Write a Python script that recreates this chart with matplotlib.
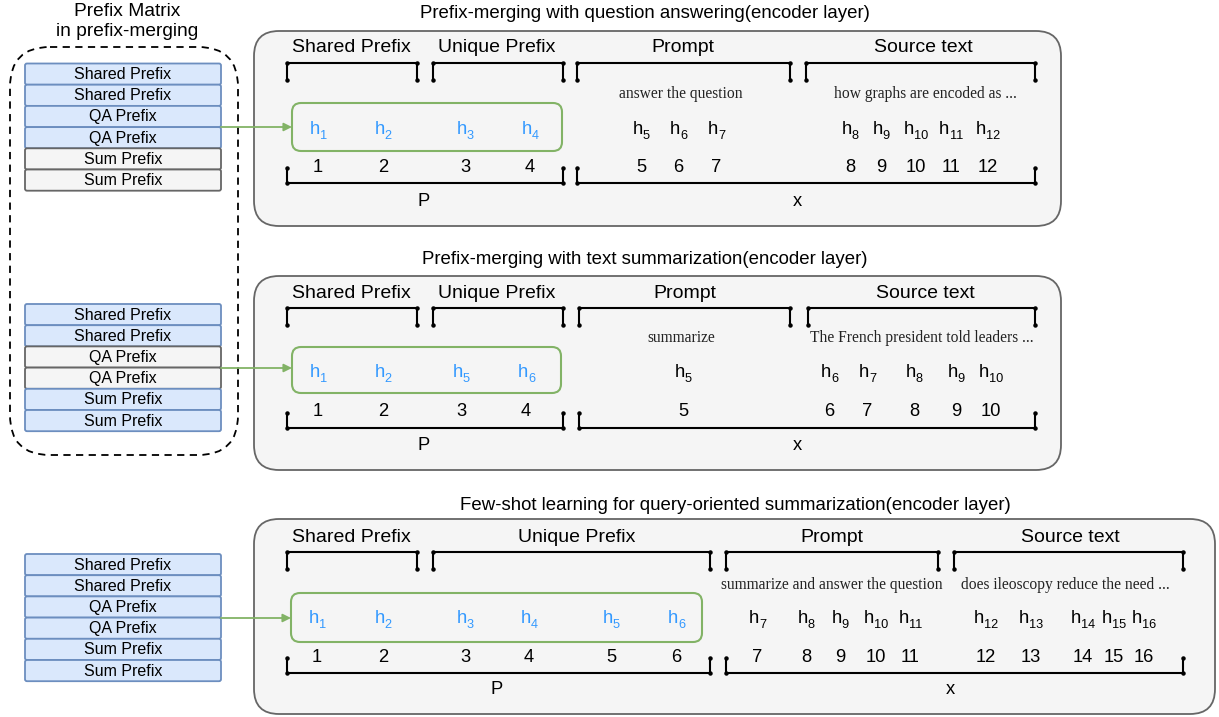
import matplotlib
matplotlib.use("Agg")
import matplotlib.pyplot as plt
from matplotlib.patches import FancyBboxPatch

plt.rcParams['font.family'] = ['Liberation Sans', 'DejaVu Sans']

# ---------------- data ----------------
matrix_title = ["Prefix Matrix", "in prefix-merging"]
stack_labels = ["Shared Prefix", "Shared Prefix", "QA Prefix", "QA Prefix", "Sum Prefix", "Sum Prefix"]
stack1_active = [True, True, True, True, False, False]
stack2_active = [True, True, False, False, True, True]
stack3_active = [True, True, True, True, True, True]

panel_titles = ["Prefix-merging with question answering(encoder layer)",
                "Prefix-merging with text summarization(encoder layer)",
                "Few-shot learning for query-oriented summarization(encoder layer)"]
segment_names = ["Shared Prefix", "Unique Prefix", "Prompt", "Source text"]
prompt_texts = ["answer the question", "summarize", "summarize and answer the question"]
source_texts = ["how graphs are encoded as ...", "The French president told leaders ...",
                "does ileoscopy reduce the need ..."]

p1_positions = [1, 2, 3, 4, 5, 6, 7, 8, 9, 10, 11, 12]
p1_hidden = [1, 2, 3, 4, 5, 6, 7, 8, 9, 10, 11, 12]
p1_prefix_count = 4
p2_positions = [1, 2, 3, 4, 5, 6, 7, 8, 9, 10]
p2_hidden = [1, 2, 5, 6, 5, 6, 7, 8, 9, 10]
p2_prefix_count = 4
p3_positions = [1, 2, 3, 4, 5, 6, 7, 8, 9, 10, 11, 12, 13, 14, 15, 16]
p3_hidden = [1, 2, 3, 4, 5, 6, 7, 8, 9, 10, 11, 12, 13, 14, 15, 16]
p3_prefix_count = 6
group_labels = ["P", "x"]

# ---------------- layout (pixels) ----------------
W, H = 1219, 717
fig = plt.figure(figsize=(W / 100, H / 100), dpi=100)
ax = fig.add_axes([0, 0, 1, 1])
ax.set_xlim(0, W)
ax.set_ylim(H, 0)
ax.axis('off')
renderer = fig.canvas.get_renderer()

BLUE_F, BLUE_E = "#dae8fc", "#6c8ebf"
GREY_F, GREY_E = "#f5f5f5", "#666666"
GREEN = "#82b366"
HCOL = "#3399ff"
HDR_FS = 14
TITLE_FS = 13.4
TOK_FS = 13.2
SUB_FS = 9.2

# Left titles
ax.text(127, 12, matrix_title[0], ha='center', va='center', fontsize=13.8)
ax.text(127, 32, matrix_title[1], ha='center', va='center', fontsize=13.8)
ax.add_patch(FancyBboxPatch((10, 47), 228, 408, boxstyle="round,pad=0,rounding_size=40",
                            fc='none', ec='black', lw=1.3, ls=(0, (4, 3))))


def draw_stack(y0, active):
    rh = 21.2
    for i, (lab, act) in enumerate(zip(stack_labels, active)):
        y = y0 + i * rh
        fc, ec = (BLUE_F, BLUE_E) if act else (GREY_F, GREY_E)
        ax.add_patch(FancyBboxPatch((25, y), 196, rh, boxstyle="round,pad=0,rounding_size=2",
                                    fc=fc, ec=ec, lw=1.3, zorder=2))
        ax.text(123, y + rh / 2 + 0.5, lab, ha='center', va='center', fontsize=11.5, zorder=3)


draw_stack(63.5, stack1_active)
draw_stack(304, stack2_active)
draw_stack(554, stack3_active)


def bracket_top(x0, x1, y, depth=17):
    ax.plot([x0, x0, x1, x1], [y + depth, y, y, y + depth], color='black', lw=1.5,
            marker='o', markersize=2.2, solid_joinstyle='miter')


def bracket_bot(x0, x1, y, depth=15):
    ax.plot([x0, x0, x1, x1], [y - depth, y, y, y - depth], color='black', lw=1.5,
            marker='o', markersize=2.2, solid_joinstyle='miter')


def htoken(x, y, n, color):
    th = ax.text(0, y, "h", ha='left', va='baseline', fontsize=TOK_FS, color=color)
    ts = ax.text(0, y + 5, str(n), ha='left', va='baseline', fontsize=SUB_FS, color=color)
    wh = th.get_window_extent(renderer).width
    ws = ts.get_window_extent(renderer).width
    left = x - (wh + ws) / 2
    th.set_x(left)
    ts.set_x(left + wh + 0.3)


def panel(cfg):
    (title, tx, ty, box, hdr_y, hdr_x, brk_y, brk_x, green, arrow_y, h_y, num_y, hidden, positions,
     xs, ptxt, ptxt_x, stxt, stxt_x, txt_y, bot_y, bot_x, lab_y, lab_x, npref) = cfg
    ax.text(tx, ty, title, ha='center', va='center', fontsize=TITLE_FS)
    bx0, by0, bx1, by1 = box
    ax.add_patch(FancyBboxPatch((bx0, by0), bx1 - bx0, by1 - by0,
                                boxstyle="round,pad=0,rounding_size=25",
                                fc=GREY_F, ec=GREY_E, lw=1.3, zorder=0))
    for name, x in zip(segment_names, hdr_x):
        ax.text(x, hdr_y, name, ha='center', va='center', fontsize=HDR_FS)
    for (x0, x1) in brk_x:
        bracket_top(x0, x1, brk_y)
    gx0, gy0, gx1, gy1 = green
    ax.add_patch(FancyBboxPatch((gx0, gy0), gx1 - gx0, gy1 - gy0,
                                boxstyle="round,pad=0,rounding_size=9",
                                fc='none', ec=GREEN, lw=1.5, zorder=2))
    ax.annotate("", xy=(gx0, arrow_y), xytext=(221, arrow_y),
                arrowprops=dict(arrowstyle='-|>', color=GREEN, lw=1.3,
                                mutation_scale=12, shrinkA=0, shrinkB=0))
    for i, (hid, pos, x) in enumerate(zip(hidden, positions, xs)):
        col = HCOL if i < npref else 'black'
        htoken(x, h_y, hid, col)
        ax.text(x, num_y, str(pos), ha='center', va='center', fontsize=TOK_FS)
    ax.text(ptxt_x, txt_y, ptxt, ha='center', va='center', fontsize=11.2,
            family='Liberation Serif', color='#222222')
    ax.text(stxt_x, txt_y, stxt, ha='center', va='center', fontsize=11.2,
            family='Liberation Serif', color='#222222')
    for (x0, x1) in bot_x:
        bracket_bot(x0, x1, bot_y)
    for lab, x in zip(group_labels, lab_x):
        ax.text(x, lab_y, lab, ha='center', va='center', fontsize=TOK_FS)


panel((panel_titles[0], 645, 14, (254, 31, 1061, 226), 47, [351, 497, 683, 923], 63,
       [(287, 417), (433, 563), (577, 790), (806, 1035)], (292, 103, 562, 151), 127, 134, 168,
       p1_hidden, p1_positions,
       [318, 383, 465, 530, 641, 678, 716, 850, 881, 916, 951, 988],
       prompt_texts[0], 681, source_texts[0], 925, 94, 183, [(287, 563), (577, 1035)],
       201, [424, 797], p1_prefix_count))

panel((panel_titles[1], 645, 260, (254, 276, 1061, 470), 293, [351, 497, 685, 925], 308,
       [(287, 417), (433, 563), (579, 790), (808, 1035)], (292, 347, 561, 393), 368, 377, 411,
       p2_hidden, p2_positions,
       [318, 383, 461, 526, 683, 829, 867, 914, 956, 991],
       prompt_texts[1], 681, source_texts[1], 922, 338, 428, [(287, 563), (579, 1035)],
       446, [424, 797], p2_prefix_count))

panel((panel_titles[2], 735, 505, (254, 519, 1215, 714), 537, [351, 577, 832, 1070], 552,
       [(287, 417), (433, 710), (726, 938), (954, 1183)], (291, 593, 702, 642), 618, 623, 657,
       p3_hidden, p3_positions,
       [317, 383, 465, 529, 611, 676, 757, 806, 840, 876, 910, 986, 1031, 1083, 1114, 1144],
       prompt_texts[2], 832, source_texts[2], 1065, 585, 673, [(287, 710), (726, 1183)],
       690, [497, 950], p3_prefix_count))

fig.savefig("out.png", dpi=100)
